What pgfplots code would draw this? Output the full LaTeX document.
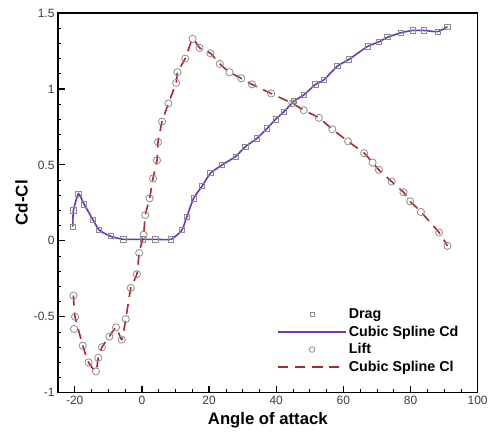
\documentclass[border=0pt]{standalone}
\usepackage{fontspec}
\setmainfont{Liberation Sans}
\usepackage{pgfplots}
\pgfplotsset{compat=1.18}
\definecolor{cdpurple}{RGB}{105,55,195}
\definecolor{clred}{RGB}{175,40,40}
\definecolor{mkgray}{RGB}{140,140,140}
\definecolor{tickgray}{RGB}{60,60,60}
\pgfplotsset{
  dragleg/.style={legend image code/.code={\draw[##1, mark size=1.9pt] plot coordinates {(34pt,0pt)};}},
  liftleg/.style={legend image code/.code={\draw[##1, mark size=2.8pt] plot coordinates {(34pt,0pt)};}},
}
\begin{document}
\begin{tikzpicture}
\begin{axis}[
  scale only axis,
  width=420pt, height=380pt,
  xmin=-25, xmax=100, ymin=-1, ymax=1.5,
  xtick={-20,0,20,40,60,80,100},
  ytick={-1,-0.5,0,0.5,1,1.5},
  minor x tick num=3,
  minor y tick num=4,
  xtick pos=bottom, ytick pos=left,
  tick align=inside,
  major tick length=7pt, minor tick length=3.5pt,
  every tick/.style={black, line width=1.2pt},
  minor tick style={line width=0.6pt},
  axis line style={line width=1.2pt},
  /pgf/number format/assume math mode=true,
  ticklabel style={font=\fontsize{12}{14}\selectfont, text=tickgray},
  yticklabel style={/pgf/number format/fixed},
  xlabel={\textbf{Angle of attack}},
  ylabel={\textbf{Cd-Cl}},
  xlabel style={font=\fontsize{16.7}{19}\selectfont, yshift=-1pt},
  ylabel style={font=\fontsize{17}{19}\selectfont, yshift=-1pt},
  legend style={draw=none, fill=none, at={(0.515,0.232)}, anchor=north west,
    font=\bfseries\fontsize{14.3}{17}\selectfont, row sep=1.8pt, cells={anchor=west}},
  legend image code/.code={\draw[#1] plot coordinates {(0pt,0pt) (68pt,0pt)};},
]
% Drag points
\addplot[only marks, mark=square, mark size=2.6pt, mkgray, mark options={line width=0.8pt}, dragleg] coordinates {
(-20.6,0.094) (-20.4,0.20) (-18.9,0.31) (-17.2,0.24) (-14.6,0.14) (-12.7,0.07)
(-9.3,0.03) (-5.5,0.01) (0.2,0.01) (4,0.01) (8.7,0.01) (11.9,0.07) (13.4,0.16)
(15.4,0.28) (17.9,0.36) (20.4,0.445) (23.9,0.50) (27.9,0.555) (30.8,0.62)
(34.3,0.675) (37.3,0.74) (39.8,0.80) (42.3,0.85) (45.3,0.92) (48.2,0.96)
(51.7,1.03) (54.2,1.06) (58.2,1.15) (61.7,1.195) (67.2,1.28) (70.6,1.31)
(73.1,1.34) (77.1,1.37) (80.6,1.385) (84.1,1.385) (88.1,1.377) (91,1.41)
};
\addlegendentry{Drag}
% Cubic spline Cd
\addplot[cdpurple, line width=1.6pt, smooth, tension=0.3, no marks] coordinates {
(-20.6,0.094) (-20.4,0.20) (-18.9,0.31) (-17.2,0.24) (-14.6,0.14) (-12.7,0.07)
(-9.3,0.03) (-5.5,0.01) (0.2,0.01) (4,0.01) (8.7,0.01) (11.9,0.07) (13.4,0.16)
(15.4,0.28) (17.9,0.36) (20.4,0.445) (23.9,0.50) (27.9,0.555) (30.8,0.62)
(34.3,0.675) (37.3,0.74) (39.8,0.80) (42.3,0.85) (45.3,0.92) (48.2,0.96)
(51.7,1.03) (54.2,1.06) (58.2,1.15) (61.7,1.195) (67.2,1.28) (70.6,1.31)
(73.1,1.34) (77.1,1.37) (80.6,1.385) (84.1,1.385) (88.1,1.377) (91,1.41)
};
\addlegendentry{Cubic Spline Cd}
% Lift points
\addplot[only marks, mark=o, mark size=3.6pt, mkgray, mark options={line width=0.8pt}, liftleg] coordinates {
(-20.4,-0.36) (-19.9,-0.50) (-20.2,-0.58) (-17.6,-0.69) (-15.9,-0.80) (-13.7,-0.86)
(-13,-0.77) (-11.9,-0.70) (-9.7,-0.63) (-7.7,-0.57) (-6,-0.65) (-4.8,-0.515)
(-3.3,-0.31) (-1.5,-0.22) (-0.8,-0.08) (0.5,0.04) (1,0.17) (2.3,0.28) (3.3,0.41)
(4.5,0.53) (4.8,0.65) (6,0.785) (7.9,0.905) (10.2,1.04) (10.6,1.11) (12.9,1.20)
(15.1,1.33) (17.2,1.27) (20.4,1.235) (23.2,1.165) (26.1,1.11) (29.6,1.07)
(32.8,1.03) (38.5,0.97) (44.8,0.905) (48.2,0.86) (52.7,0.81) (56.7,0.735)
(61.4,0.655) (66.2,0.577) (68.7,0.515) (70.6,0.467) (74.4,0.39) (77.9,0.32)
(79.9,0.26) (83.1,0.19) (88.5,0.055) (91,-0.033)
};
\addlegendentry{Lift}
% Cubic spline Cl
\addplot[clred, line width=1.6pt, dash pattern=on 10pt off 7pt, smooth, tension=0.3, no marks] coordinates {
(-20.4,-0.36) (-19.9,-0.50) (-17.6,-0.69) (-15.9,-0.80) (-13.7,-0.86)
(-13,-0.77) (-11.9,-0.70) (-9.7,-0.63) (-7.7,-0.57) (-6,-0.65) (-4.8,-0.515)
(-3.3,-0.31) (-1.5,-0.22) (-0.8,-0.08) (0.5,0.04) (1,0.17) (2.3,0.28) (3.3,0.41)
(4.5,0.53) (4.8,0.65) (6,0.785) (7.9,0.905) (10.2,1.04) (10.6,1.11) (12.9,1.20)
(15.1,1.33) (17.2,1.27) (20.4,1.235) (23.2,1.165) (26.1,1.11) (29.6,1.07)
(32.8,1.03) (38.5,0.97) (44.8,0.905) (48.2,0.86) (52.7,0.81) (56.7,0.735)
(61.4,0.655) (66.2,0.577) (68.7,0.515) (70.6,0.467) (74.4,0.39) (77.9,0.32)
(79.9,0.26) (83.1,0.19) (88.5,0.055) (91,-0.033)
};
\addlegendentry{Cubic Spline Cl}
\end{axis}
\path (current axis.south west) ++(-58pt,-39pt) rectangle ++(491pt,432pt);
\end{tikzpicture}
\end{document}
